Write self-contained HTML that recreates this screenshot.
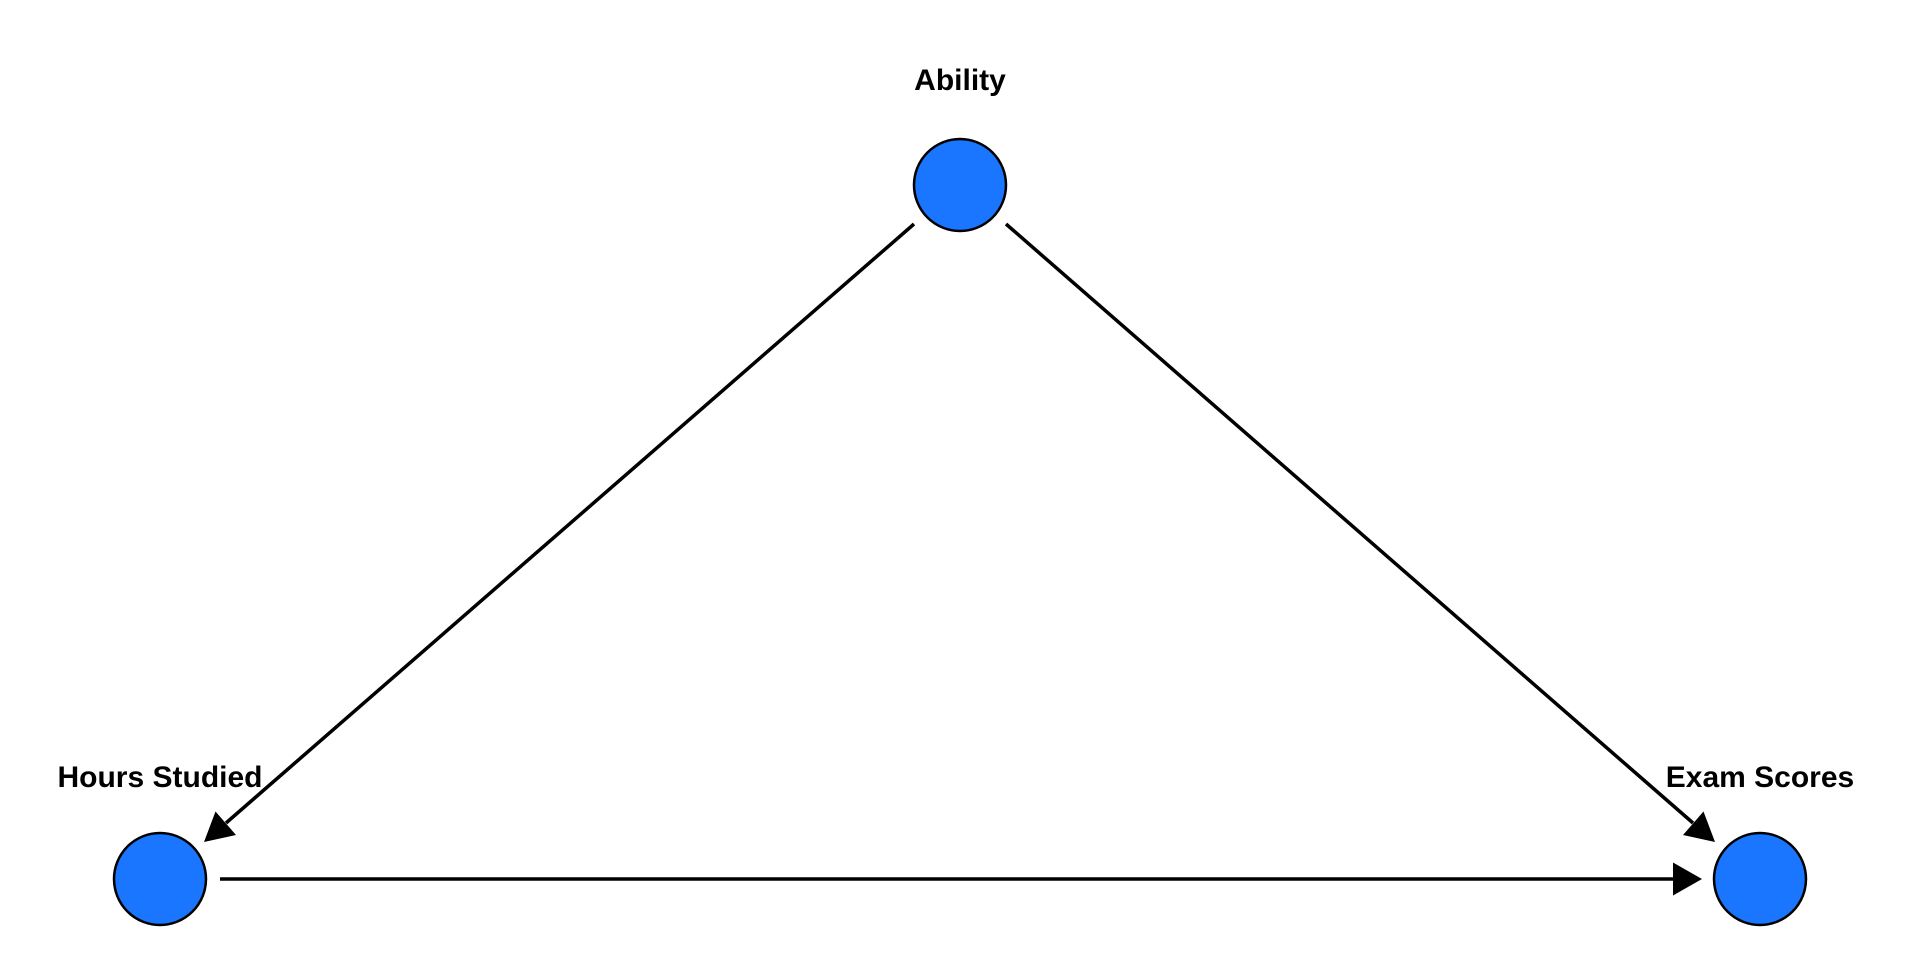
<!DOCTYPE html>
<html><head><meta charset="utf-8"><style>
html,body{margin:0;padding:0;background:#fff;width:1920px;height:960px;overflow:hidden}
</style></head><body>
<svg width="1920" height="960" xmlns="http://www.w3.org/2000/svg" style="display:block">
<g font-family="Liberation Sans, Arial, sans-serif" font-weight="bold" font-size="30" fill="#000" text-anchor="middle">
<text x="960" y="90">Ability</text>
<text x="160" y="787">Hours Studied</text>
<text x="1760" y="787">Exam Scores</text>
</g>
<g stroke="#000" stroke-width="3.5" fill="none">
<line x1="914" y1="224" x2="226" y2="823"/>
<line x1="1006" y1="224" x2="1693" y2="823"/>
<line x1="220" y1="879" x2="1674" y2="879"/>
</g>
<g fill="#000">
<polygon points="204,842 236,835 215.5,811.5"/>
<polygon points="1715,842 1683,835 1703.5,811.5"/>
<polygon points="1702,879 1673,862.5 1673,895.5"/>
</g>
<g fill="#1a76fe" stroke="#000" stroke-width="2.5">
<circle cx="960" cy="185" r="46"/>
<circle cx="160" cy="879" r="46"/>
<circle cx="1760" cy="879" r="46"/>
</g>
</svg>
</body></html>
